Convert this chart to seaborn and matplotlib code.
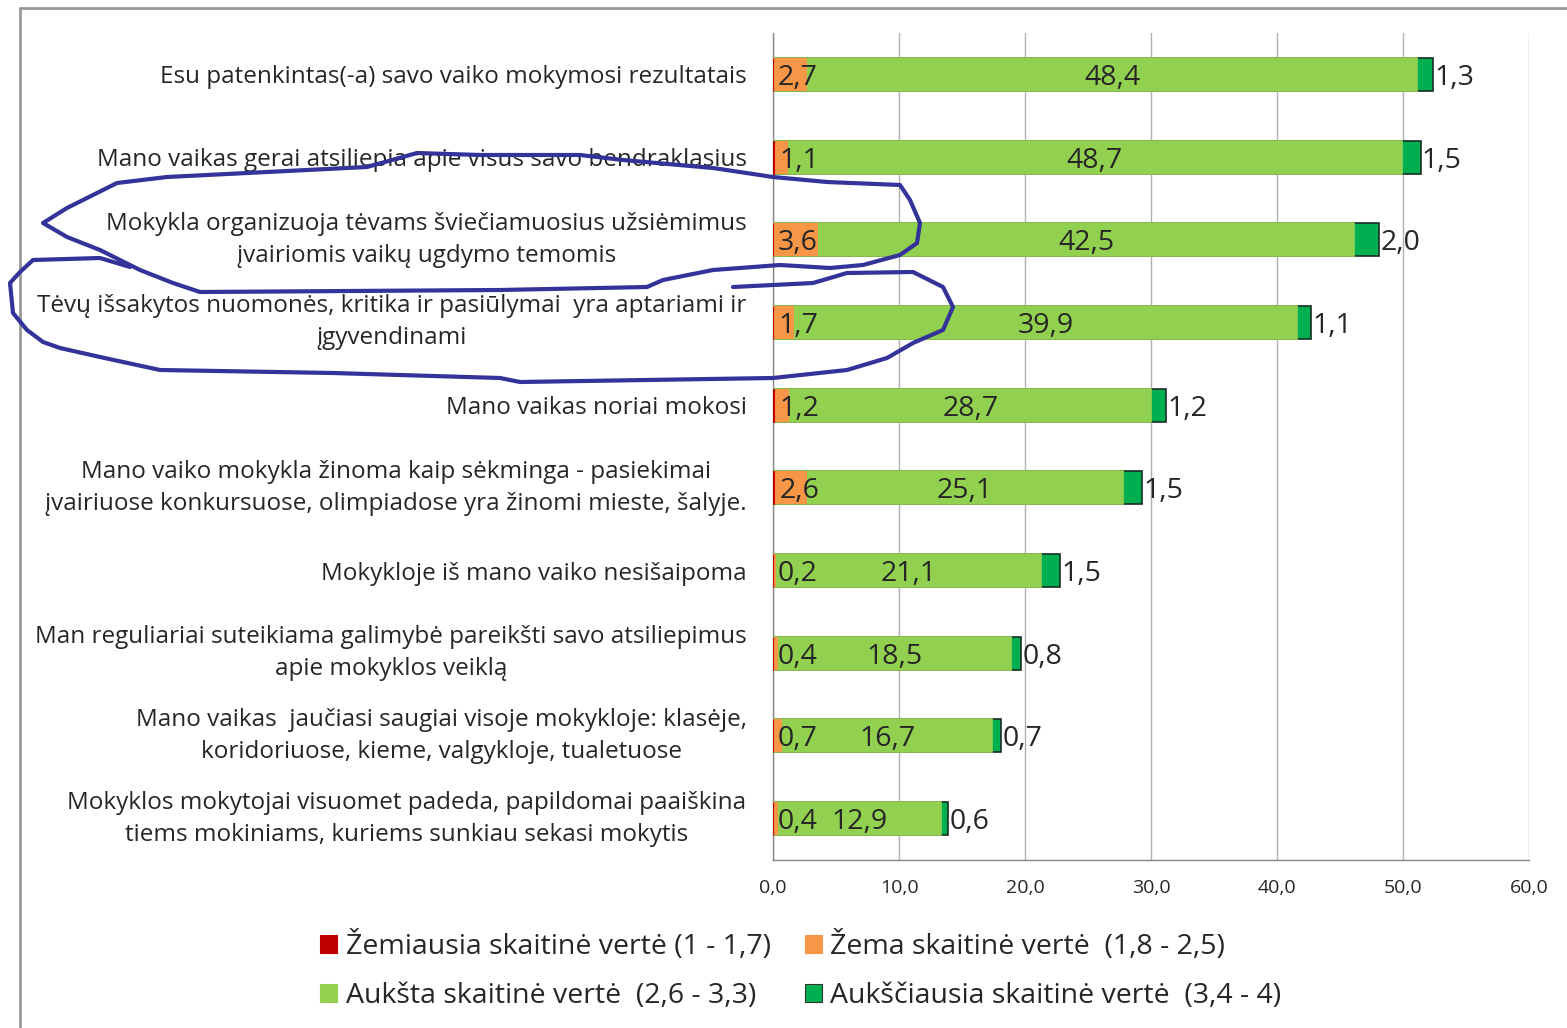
#!/usr/bin/env python3
"""
Tėvų nuomonės apie mokyklą - stacked horizontal bars
"""

import pandas as pd
import matplotlib.pyplot as plt
import seaborn as sns
from matplotlib.patches import Patch
from matplotlib.lines import Line2D
from matplotlib.path import Path
from matplotlib.patches import PathPatch

# ------------------------------------------------------------
# Data
# ------------------------------------------------------------
statements = [
    "Esu patenkintas(-a) savo vaiko mokymosi rezultatais",
    "Mano vaikas gerai atsiliepia apie visus savo bendraklasius",
    "Mokykla organizuoja tėvams šviečiamuosius užsiėmimus\nįvairiomis vaikų ugdymo temomis",
    "Tėvų išsakytos nuomonės, kritika ir pasiūlymai  yra aptariami ir\nįgyvendinami",
    "Mano vaikas noriai mokosi",
    "Mano vaiko mokykla žinoma kaip sėkminga - pasiekimai\nįvairiuose konkursuose, olimpiadose yra žinomi mieste, šalyje.",
    "Mokykloje iš mano vaiko nesišaipoma",
    "Man reguliariai suteikiama galimybė pareikšti savo atsiliepimus\napie mokyklos veiklą",
    "Mano vaikas  jaučiasi saugiai visoje mokykloje: klasėje,\nkoridoriuose, kieme, valgykloje, tualetuose",
    "Mokyklos mokytojai visuomet padeda, papildomai paaiškina\ntiems mokiniams, kuriems sunkiau sekasi mokytis",
]
lowest = [0.0, 0.1, 0.0, 0.0, 0.1, 0.1, 0.0, 0.0, 0.0, 0.0]
low = [2.7, 1.1, 3.6, 1.7, 1.2, 2.6, 0.2, 0.4, 0.7, 0.4]
high = [48.4, 48.7, 42.5, 39.9, 28.7, 25.1, 21.1, 18.5, 16.7, 12.9]
highest = [1.3, 1.5, 2.0, 1.1, 1.2, 1.5, 1.5, 0.8, 0.7, 0.6]

series_names = [
    "Žemiausia skaitinė vertė (1 - 1,7)",
    "Žema skaitinė vertė  (1,8 - 2,5)",
    "Aukšta skaitinė vertė  (2,6 - 3,3)",
    "Aukščiausia skaitinė vertė  (3,4 - 4)",
]
colors = ["#C00000", "#F79646", "#92D050", "#00B050"]
x_ticks = [0, 10, 20, 30, 40, 50, 60]

df = pd.DataFrame({
    "statement": statements,
    "lowest": lowest,
    "low": low,
    "high": high,
    "highest": highest,
})
df["c1"] = df["lowest"]
df["c2"] = df["c1"] + df["low"]
df["c3"] = df["c2"] + df["high"]
df["c4"] = df["c3"] + df["highest"]


def fmt(v):
    return f"{v:.1f}".replace(".", ",")


# ------------------------------------------------------------
# Plot
# ------------------------------------------------------------
sns.set_style("white")
plt.rcParams["font.family"] = ["Open Sans", "DejaVu Sans"]

fig = plt.figure(figsize=(15.67, 10.28), dpi=100)
ax = fig.add_axes([773 / 1567, 1 - 860 / 1028, (1529 - 773) / 1567, (860 - 33) / 1028])

# back-to-front cumulative layers
sns.barplot(data=df, y="statement", x="c4", color=colors[3], width=0.4,
            saturation=1, edgecolor="#1a2e22", linewidth=1.2, orient="h",
            ax=ax, zorder=3)
sns.barplot(data=df, y="statement", x="c3", color=colors[2], width=0.4,
            saturation=1, edgecolor=colors[2], linewidth=1.2, orient="h",
            ax=ax, zorder=3)
sns.barplot(data=df, y="statement", x="c2", color=colors[1], width=0.4,
            saturation=1, linewidth=0, orient="h", ax=ax, zorder=3)
sns.barplot(data=df, y="statement", x="c1", color=colors[0], width=0.4,
            saturation=1, edgecolor=colors[0], linewidth=0.8, orient="h",
            ax=ax, zorder=3)

# value labels
for i, row in df.iterrows():
    ax.text(row["c1"] + 0.4, i, fmt(row["low"]), ha="left",
            va="center_baseline", fontsize=20.5, zorder=5)
    ax.text((row["c2"] + row["c3"]) / 2, i, fmt(row["high"]), ha="center",
            va="center_baseline", fontsize=20.5, zorder=5)
    ax.text(row["c4"] + 0.1, i, fmt(row["highest"]), ha="left",
            va="center_baseline", fontsize=20.5, zorder=5)

ax.set_xlim(0, 60)
ax.set_ylim(len(statements) - 0.5, -0.5)
ax.set_xticks(x_ticks)
ax.set_xticklabels([fmt(t) for t in x_ticks], fontsize=14)
ax.set_xlabel("")
ax.set_ylabel("")
ax.grid(axis="x", color="#b0b0b0", linewidth=1.0, zorder=0)
ax.set_axisbelow(True)

for side in ["top", "right"]:
    ax.spines[side].set_visible(False)
for side in ["left", "bottom"]:
    ax.spines[side].set_color("#888888")
    ax.spines[side].set_linewidth(1.0)

ax.tick_params(axis="x", direction="out", length=6, color="#888888", pad=8)
ax.tick_params(axis="y", which="major", length=0, pad=19, labelsize=17.5)
ax.set_yticks([i + 0.5 for i in range(len(statements) - 1)], minor=True)
ax.tick_params(axis="y", which="minor", direction="out", length=6, color="#888888")
for lbl in ax.get_yticklabels():
    lbl.set_multialignment("center")
    lbl.set_linespacing(1.45)
    if "\n" in lbl.get_text():
        lbl.set_verticalalignment("center")

# legend (row-major order like the original)
handles = [Patch(facecolor=c, edgecolor="#333333" if k == 3 else c, linewidth=0.8)
           for k, c in enumerate(colors)]
order = [0, 2, 1, 3]
fig.legend([handles[k] for k in order], [series_names[k] for k in order],
           loc="center", bbox_to_anchor=(0.511, 0.056),
           ncol=2, frameon=False, fontsize=20.5, handlelength=0.6,
           handleheight=0.6, handletextpad=0.3, columnspacing=1.2,
           labelspacing=0.75)

# outer frame
W, H = 1567, 1028
fig.add_artist(Line2D([20 / W, 20 / W], [0, 1 - 8 / H], color="#999999", lw=2))
fig.add_artist(Line2D([20 / W, 1], [1 - 8 / H, 1 - 8 / H], color="#999999", lw=2))

# hand-drawn highlight loops
loop1 = [(480, 155), (580, 155), (623, 160), (713, 168), (773, 177), (827, 182),
         (900, 185), (910, 200), (920, 223), (917, 243), (900, 255), (863, 265),
         (830, 268), (780, 265), (713, 270), (663, 280), (647, 287), (500, 290),
         (200, 292), (173, 283), (140, 270), (100, 250), (67, 237), (43, 223),
         (67, 208), (117, 183), (167, 177), (367, 167), (417, 153), (480, 155)]
loop2 = [(130, 267), (100, 258), (33, 260), (20, 272), (10, 283), (13, 313),
         (27, 330), (43, 342), (60, 348), (100, 357), (160, 370), (333, 373),
         (500, 378), (520, 382), (773, 378), (847, 370), (887, 358), (913, 343),
         (943, 330), (953, 307), (943, 287), (913, 272), (847, 273), (813, 283),
         (733, 287)]
for pts in (loop1, loop2):
    verts = [(x / W, 1 - y / H) for x, y in pts]
    codes = [Path.MOVETO] + [Path.LINETO] * (len(verts) - 1)
    fig.add_artist(PathPatch(Path(verts, codes), fill=False, edgecolor="#33339a",
                             lw=3, joinstyle="round", capstyle="round",
                             transform=fig.transFigure, zorder=10))

fig.savefig("out.png", dpi=100)
